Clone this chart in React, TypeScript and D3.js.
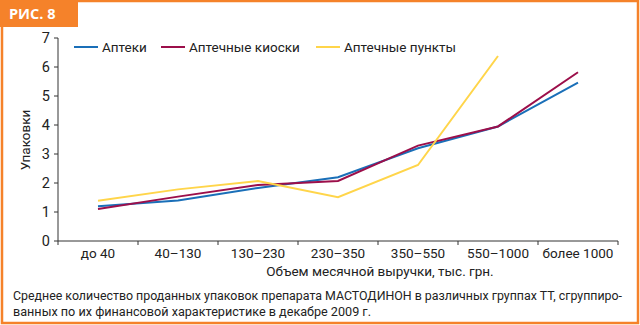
import React from "react";
import * as d3 from "d3";

const categories = ["до 40", "40–130", "130–230", "230–350", "350–550", "550–1000", "более 1000"];
const apteki = [1.2, 1.4, 1.83, 2.2, 3.2, 3.95, 5.46];
const kioski = [1.1, 1.53, 1.93, 2.07, 3.29, 3.95, 5.82];
const punkty: (number | null)[] = [1.39, 1.78, 2.07, 1.51, 2.62, 6.38, null];
const yTicks = [0, 1, 2, 3, 4, 5, 6, 7];
const seriesNames = ["Аптеки", "Аптечные киоски", "Аптечные пункты"];
const seriesColors = ["#1a6fb8", "#9c0f4a", "#ffd54a"];
const figLabel = "РИС. 8";
const yLabel = "Упаковки";
const xLabel = "Объем месячной выручки, тыс. грн.";
const caption1 = "Среднее количество проданных упаковок препарата МАСТОДИНОН в различных группах ТТ, сгруппиро-";
const caption2 = "ванных по их финансовой характеристике в декабре 2009 г.";

export default function App() {
  const W = 640, H = 325;
  const x = d3.scaleBand<string>().domain(categories).range([58, 618]).padding(0);
  const y = d3.scaleLinear().domain([0, 7]).range([241, 38]);
  const cx = (i: number) => (x(categories[i]) as number) + x.bandwidth() / 2;
  const line = d3
    .line<number | null>()
    .defined((d) => d !== null)
    .x((_, i) => cx(i))
    .y((d) => y(d as number));
  const series = [apteki, kioski, punkty];
  const font = "Roboto, 'Open Sans', sans-serif";
  const orange = "#f5822a";
  const boundaries = [...categories.map((c) => x(c) as number), 618];
  const legendX = [74, 161, 316];

  return (
    <svg width={W} height={H} style={{ position: "absolute", left: 0, top: 0, background: "#fff" }} fontFamily={font}>
      <rect x={0} y={0} width={W} height={H} fill="#fff" />
      <rect x={2} y={1} width={636} height={322} fill="none" stroke={orange} strokeWidth={2.5} />
      <rect x={0} y={0} width={78} height={27} fill={orange} />
      <text x={9} y={19} fill="#fff" fontWeight="bold" fontSize={14.5} fontFamily="'Open Sans', sans-serif">{figLabel}</text>

      {/* y axis */}
      <line x1={58} x2={58} y1={y(7)} y2={y(0)} stroke="#333" strokeWidth={1} />
      {yTicks.map((t) => (
        <g key={t}>
          <line x1={54} x2={58} y1={y(t)} y2={y(t)} stroke="#333" />
          <text x={50} y={y(t)} dy="0.36em" textAnchor="end" fontSize={14.5} fill="#222">{t}</text>
        </g>
      ))}
      {/* x axis */}
      <line x1={58} x2={618} y1={y(0)} y2={y(0)} stroke="#333" />
      {boundaries.map((b, i) => (
        <line key={i} x1={b} x2={b} y1={y(0)} y2={y(0) + 4} stroke="#333" />
      ))}
      {categories.map((c, i) => (
        <text key={c} x={cx(i)} y={258} textAnchor="middle" fontSize={13.5} fill="#222">{c}</text>
      ))}
      <text x={380} y={276} textAnchor="middle" fontSize={13.5} fill="#222">{xLabel}</text>
      <text transform={`translate(30,140) rotate(-90)`} textAnchor="middle" fontSize={13.5} fill="#222">{yLabel}</text>

      {series.map((s, i) => (
        <path key={i} d={line(s as (number | null)[]) || ""} fill="none" stroke={seriesColors[i]} strokeWidth={2} />
      ))}

      {seriesNames.map((n, i) => (
        <g key={n}>
          <line x1={legendX[i]} x2={legendX[i] + 24} y1={47} y2={47} stroke={seriesColors[i]} strokeWidth={2} />
          <text x={legendX[i] + 28} y={47} dy="0.35em" fontSize={13.5} fill="#222">{n}</text>
        </g>
      ))}

      <text x={13} y={300} fontSize={12} fill="#222" textLength={609} lengthAdjust="spacingAndGlyphs">{caption1}</text>
      <text x={13} y={316} fontSize={12} fill="#222" textLength={358} lengthAdjust="spacingAndGlyphs">{caption2}</text>
    </svg>
  );
}
